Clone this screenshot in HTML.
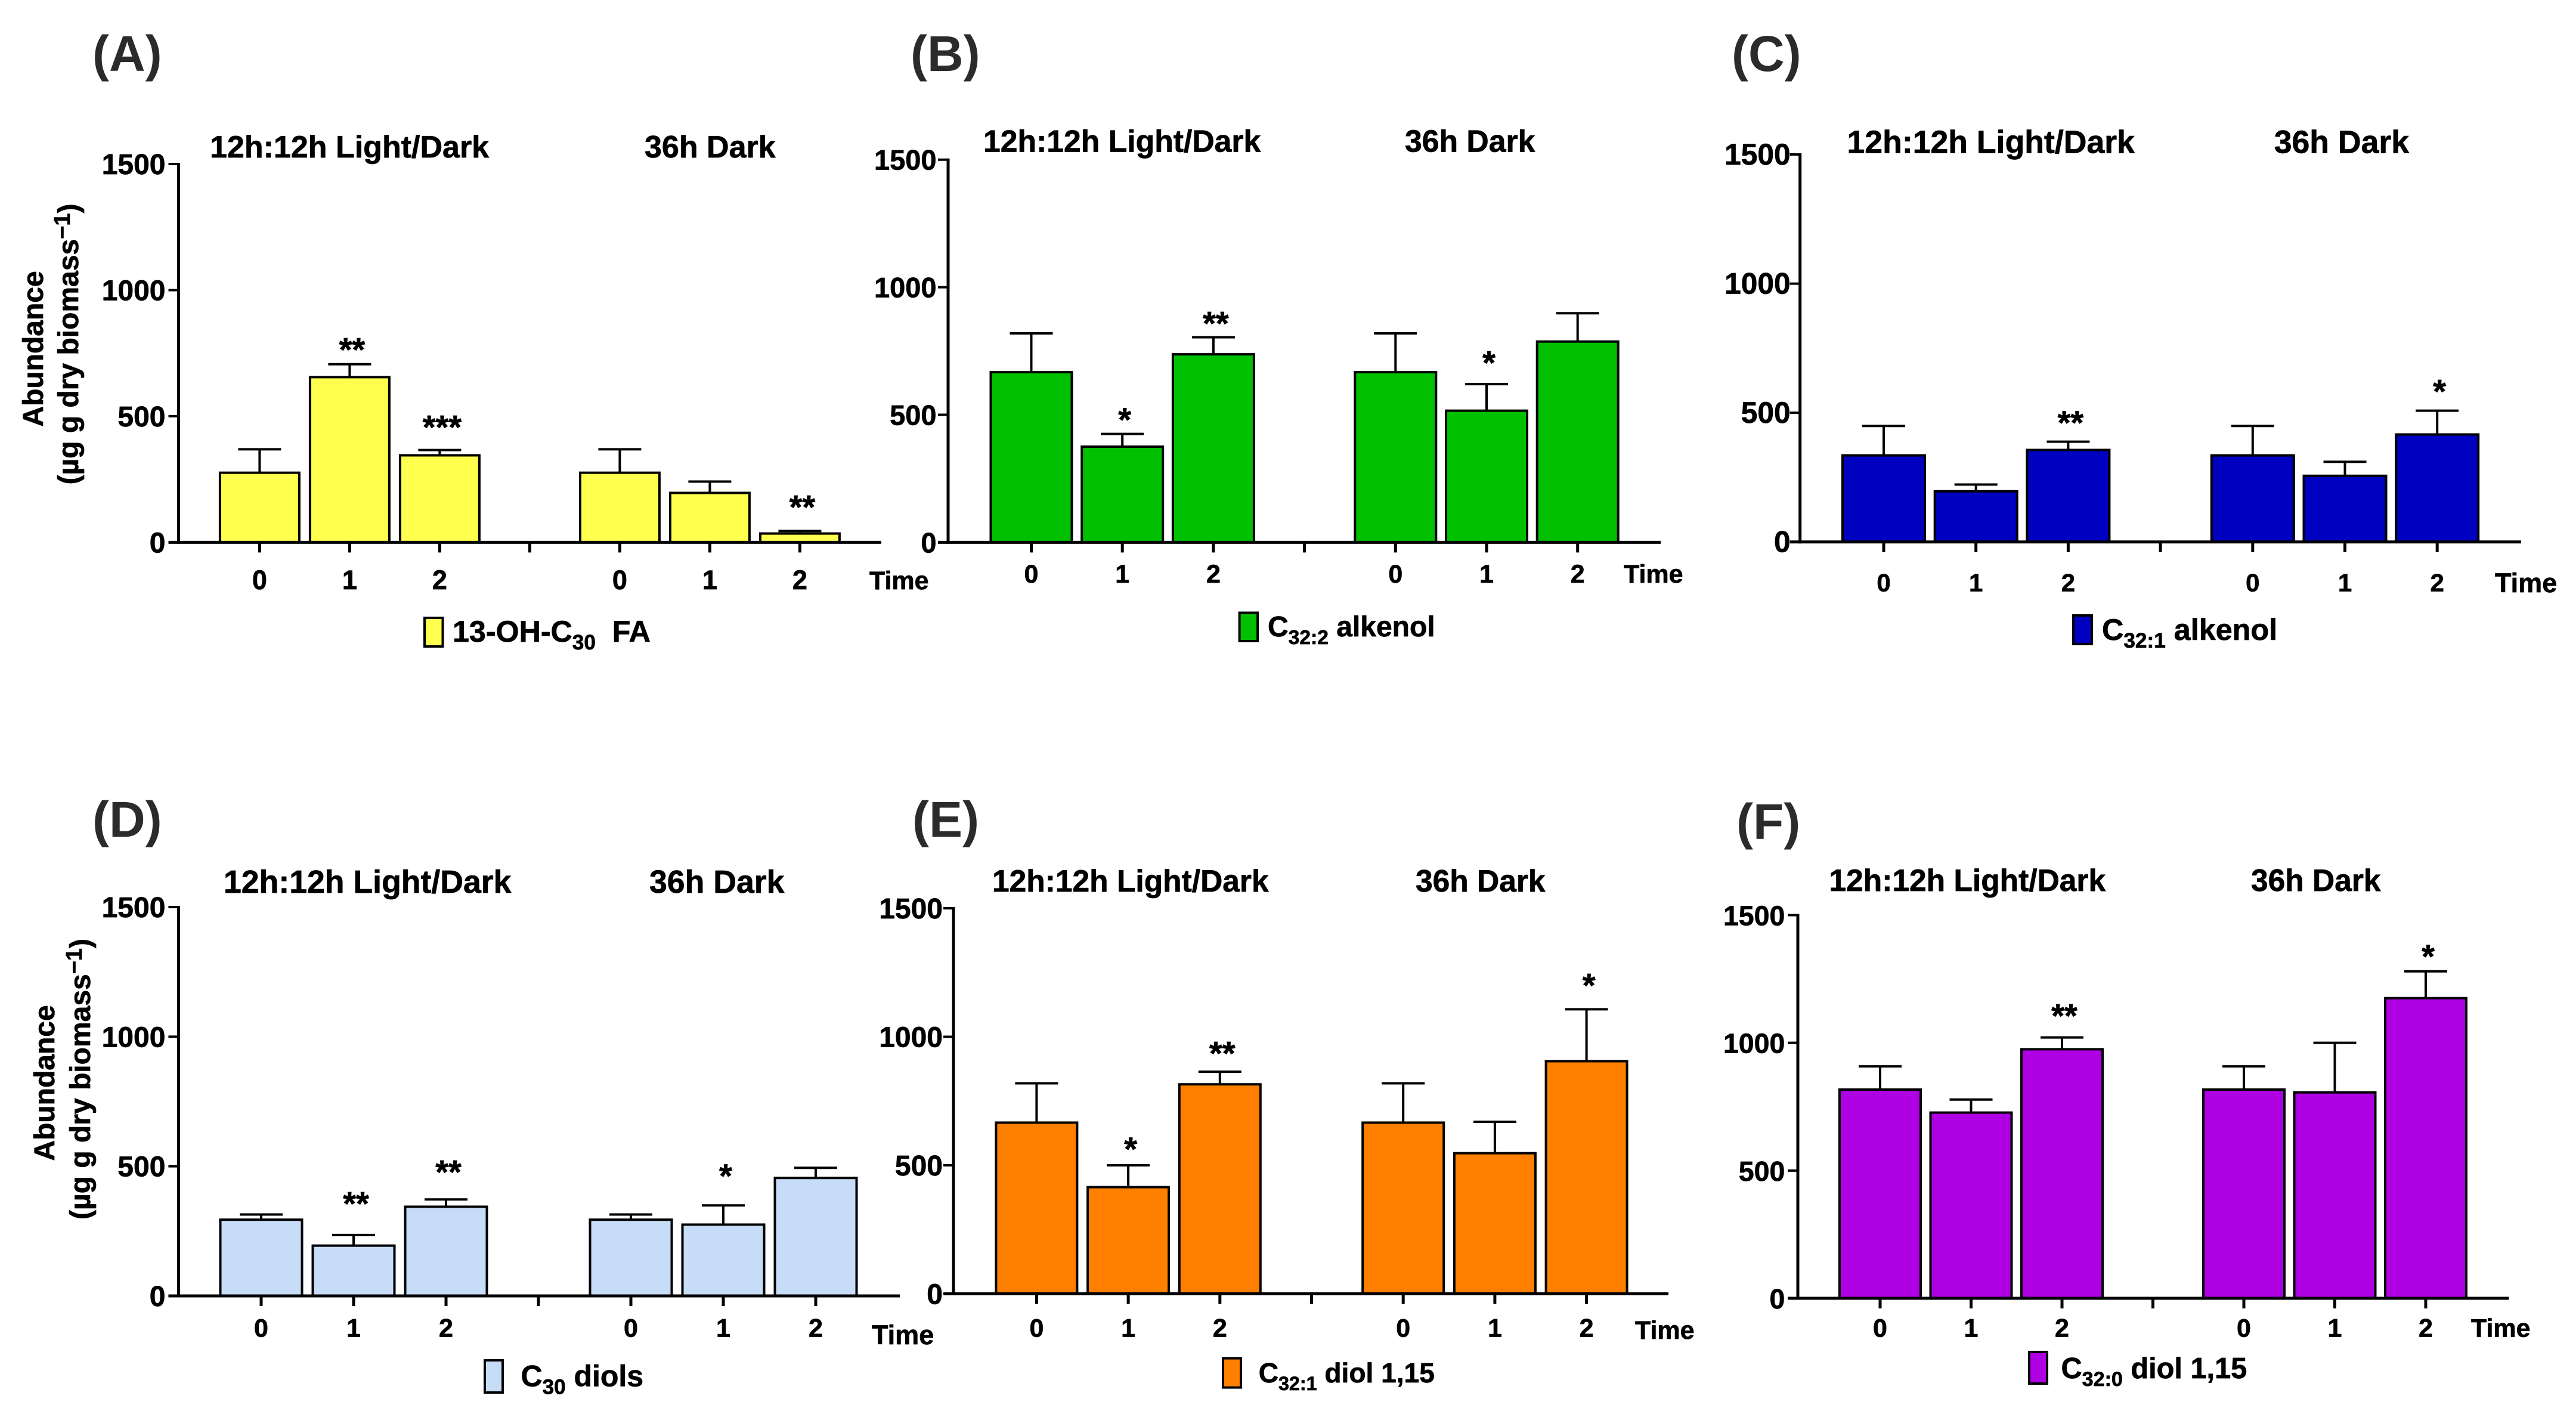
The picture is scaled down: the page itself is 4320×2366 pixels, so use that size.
<!DOCTYPE html>
<html>
<head>
<meta charset="utf-8">
<style>
html,body{margin:0;padding:0;background:#fff;width:4320px;height:2366px;overflow:hidden}
svg{display:block}
text{font-family:"Liberation Sans",sans-serif;font-weight:bold;fill:#000;stroke:#000;stroke-width:.7px;white-space:pre}
</style>
</head>
<body>
<svg id="figure" xmlns="http://www.w3.org/2000/svg" width="4320" height="2366" viewBox="0 0 4320 2366"></svg>
<script>
// Shared categories and axis ticks
const categories = ["0", "1", "2", "", "0", "1", "2"];
const yTickValues = [0, 500, 1000, 1500];
const groupTitles = ["12h:12h Light/Dark", "36h Dark"];

// Means (one slot per x tick; the middle slot is the empty gap)
const meansA = [276, 655, 345, null, 276, 196, 35];
const meansB = [667, 375, 737, null, 667, 516, 787];
const meansC = [335, 196, 356, null, 335, 256, 416];
const meansD = [294, 194, 344, null, 294, 275, 455];
const meansE = [666, 415, 815, null, 666, 547, 905];
const meansF = [817, 727, 975, null, 817, 806, 1175];

// Error bar sizes (upper whisker length in data units)
const errorsA = [93, 51, 21, null, 93, 45, 10];
const errorsB = [152, 50, 67, null, 152, 104, 111];
const errorsC = [114, 26, 32, null, 114, 54, 92];
const errorsD = [20, 41, 28, null, 20, 74, 39];
const errorsE = [153, 85, 49, null, 153, 122, 202];
const errorsF = [91, 51, 46, null, 91, 194, 105];

// Significance marks, and the data value at which each is centred
const marksA = ["", "**", "***", "", "", "", "**"];
const marksB = ["", "*", "**", "", "", "*", ""];
const marksC = ["", "", "**", "", "", "", "*"];
const marksD = ["", "**", "**", "", "", "*", ""];
const marksE = ["", "*", "**", "", "", "", "*"];
const marksF = ["", "", "**", "", "", "", "*"];
const markValuesA = [0, 780, 473, 0, 0, 0, 156];
const markValuesB = [0, 497, 874, 0, 0, 720, 0];
const markValuesC = [0, 0, 477, 0, 0, 0, 599];
const markValuesD = [0, 371, 493, 0, 0, 479, 0];
const markValuesE = [0, 579, 951, 0, 0, 0, 1216];
const markValuesF = [0, 0, 1122, 0, 0, 0, 1354];

const panels = [
  {id:"a",label:"(A)",labelX:155,labelY:119,color:"#ffff4d",means:meansA,errors:errorsA,marks:marksA,markValues:markValuesA,
   ax:299.5,top:275,base:909.4,right:1478,t0:435.4,dt:151,barW:133,tickFs:48,tickGap:22,catFs:45,catY:988,
   titleFs:52,titleY:264,titleX:[352,1081],timeX:1458,timeY:988,timeFs:43,
   sw:[712,1036,30.5,48],legX:759,legY:1076,legFs:50.2,legend:["13-OH-C","30","  FA"],
   yTitle:{a:72,b:131,cy1:585,cy2:577}},
  {id:"b",label:"(B)",labelX:1527,labelY:119,color:"#00c000",means:meansB,errors:errorsB,marks:marksB,markValues:markValuesB,
   ax:1590,top:267.7,base:909.4,right:2785,t0:1729.5,dt:152.7,barW:136,tickFs:47,tickGap:19.5,catFs:43,catY:977,
   titleFs:51.7,titleY:254.5,titleX:[1649,2356],timeX:2723,timeY:977,timeFs:43,
   sw:[2078.6,1027.5,30.5,47.5],legX:2126,legY:1067,legFs:48,legend:["C","32:2"," alkenol"]},
  {id:"c",label:"(C)",labelX:2904,labelY:119,color:"#0000c0",means:meansC,errors:errorsC,marks:marksC,markValues:markValuesC,
   ax:3018.7,top:259,base:908.7,right:4228,t0:3159,dt:154.7,barW:138,tickFs:49.7,tickGap:16,catFs:42,catY:991.5,
   titleFs:53.6,titleY:256.7,titleX:[3097.5,3813.7],timeX:4184,timeY:993,timeFs:45,
   sw:[3477,1032,31,48],legX:3525,legY:1073,legFs:50.3,legend:["C","32:1"," alkenol"]},
  {id:"d",label:"(D)",labelX:155,labelY:1403,color:"#c6dcf7",means:meansD,errors:errorsD,marks:marksD,markValues:markValuesD,
   ax:299.4,top:1521,base:2173,right:1509,t0:438,dt:155,barW:137,tickFs:48,tickGap:22,catFs:43,catY:2241.5,
   titleFs:53.6,titleY:1497,titleX:[375,1089],timeX:1462,timeY:2254,timeFs:45,
   sw:[813,2281,30,54],legX:873.5,legY:2324.5,legFs:50,legend:["C","30"," diols"],
   yTitle:{a:91,b:151,cy1:1816,cy2:1809.5}},
  {id:"e",label:"(E)",labelX:1530,labelY:1403,color:"#ff8000",means:meansE,errors:errorsE,marks:marksE,markValues:markValuesE,
   ax:1599,top:1523,base:2169.5,right:2798,t0:1738.4,dt:153.7,barW:136,tickFs:48,tickGap:18,catFs:43,catY:2241.5,
   titleFs:51.5,titleY:1495,titleX:[1664,2374],timeX:2742,timeY:2245,timeFs:43,
   sw:[2051,2277.6,30,49],legX:2110.7,legY:2318,legFs:46.1,legend:["C","32:1"," diol 1,15"]},
  {id:"f",label:"(F)",labelX:2912,labelY:1407,color:"#ae00e3",means:meansF,errors:errorsF,marks:marksF,markValues:markValuesF,
   ax:3015,top:1534.5,base:2177,right:4207.5,t0:3153,dt:152.5,barW:136,tickFs:46.5,tickGap:21.6,catFs:43,catY:2241.5,
   titleFs:51.5,titleY:1494,titleX:[3067.5,3775],timeX:4144,timeY:2241.5,timeFs:43,
   sw:[3403,2267,30,53],legX:3456.5,legY:2311,legFs:48.7,legend:["C","32:0"," diol 1,15"]}
];

const NS = "http://www.w3.org/2000/svg";
const YMAX = 1500;
const fig = document.getElementById("figure");

function make(parent, tag, attrs, txt) {
  const n = document.createElementNS(NS, tag);
  for (const k in attrs) n.setAttribute(k, attrs[k]);
  if (txt !== undefined) n.textContent = txt;
  parent.appendChild(n);
  return n;
}
function line(parent, x1, y1, x2, y2, w) {
  return make(parent, "line", {x1:x1, y1:y1, x2:x2, y2:y2, stroke:"#000", "stroke-width":w});
}

panels.forEach(function (p) {
  const yScale = function (v) { return p.base - (v / YMAX) * (p.base - p.top); };
  const xScale = function (i) { return p.t0 + i * p.dt; };

  const g = make(fig, "g", {});
  
  

  const lab = make(g, "text", {x:p.labelX, y:p.labelY, "font-size":84, style:"fill:#2b2b2b;stroke:none"}, p.label);
  
  

  groupTitles.forEach(function (t, i) {
    const tt = make(g, "text", {x:p.titleX[i], y:p.titleY, "font-size":p.titleFs}, t);
    
    
  });

  // bars and error bars
  categories.forEach(function (c, i) {
    const m = p.means[i];
    if (m === null) return;
    const cx = xScale(i);
    const yTop = yScale(m + p.errors[i]);
    const eb = make(g, "g", {});
    
    
    line(eb, cx, yScale(m), cx, yTop, 4);
    line(eb, cx - 36, yTop, cx + 36, yTop, 4);
    const b = make(g, "rect", {x:cx - p.barW / 2, y:yScale(m), width:p.barW, height:p.base - yScale(m), fill:p.color, stroke:"#000", "stroke-width":4});
    
    
    if (p.marks[i]) {
      const s = make(g, "text", {x:cx + 4, y:yScale(p.markValues[i]) + 26, "font-size":56, "text-anchor":"middle"}, p.marks[i]);
      
      
    }
  });

  // axes
  const yAxis = make(g, "g", {});
  
  
  line(yAxis, p.ax, p.top - 2, p.ax, p.base + 2.5, 5);
  yTickValues.forEach(function (v) {
    line(yAxis, p.ax - 17, yScale(v), p.ax, yScale(v), v === 0 ? 5 : 4);
    const tl = make(yAxis, "text", {x:p.ax - p.tickGap, y:yScale(v) + 17, "font-size":p.tickFs, "text-anchor":"end"}, String(v));
    
    
  });

  const xAxis = make(g, "g", {});
  
  
  line(xAxis, p.ax, p.base, p.right, p.base, 5);
  categories.forEach(function (c, i) {
    line(xAxis, xScale(i), p.base, xScale(i), p.base + 17, 5);
    if (c !== "") {
      const cl = make(xAxis, "text", {x:xScale(i), y:p.catY, "font-size":p.catFs, "text-anchor":"middle"}, c);
      
      
    }
  });
  const tm = make(xAxis, "text", {x:p.timeX, y:p.timeY, "font-size":p.timeFs}, "Time");
  
  

  // legend
  const lg = make(g, "g", {});
  
  
  make(lg, "rect", {x:p.sw[0], y:p.sw[1], width:p.sw[2], height:p.sw[3], fill:p.color, stroke:"#000", "stroke-width":4});
  const lt = make(lg, "text", {x:p.legX, y:p.legY, "font-size":p.legFs});
  make(lt, "tspan", {}, p.legend[0]);
  make(lt, "tspan", {dy:13, "font-size":p.legFs * 0.7}, p.legend[1]);
  make(lt, "tspan", {dy:-13}, p.legend[2]);

  // y title
  if (p.yTitle) {
    const a = p.yTitle;
    const t1 = make(g, "text", {transform:"translate(" + a.a + "," + a.cy1 + ") rotate(-90)", "font-size":48, "text-anchor":"middle"}, "Abundance");
    
    
    const t2 = make(g, "text", {transform:"translate(" + a.b + "," + a.cy2 + ") rotate(-90)", "font-size":48, "text-anchor":"middle"});
    
    
    make(t2, "tspan", {}, "(µg g dry biomass");
    make(t2, "tspan", {dy:-14, "font-size":38}, "−1");
    make(t2, "tspan", {dy:14}, ")");
  }
});
</script>
</body>
</html>
